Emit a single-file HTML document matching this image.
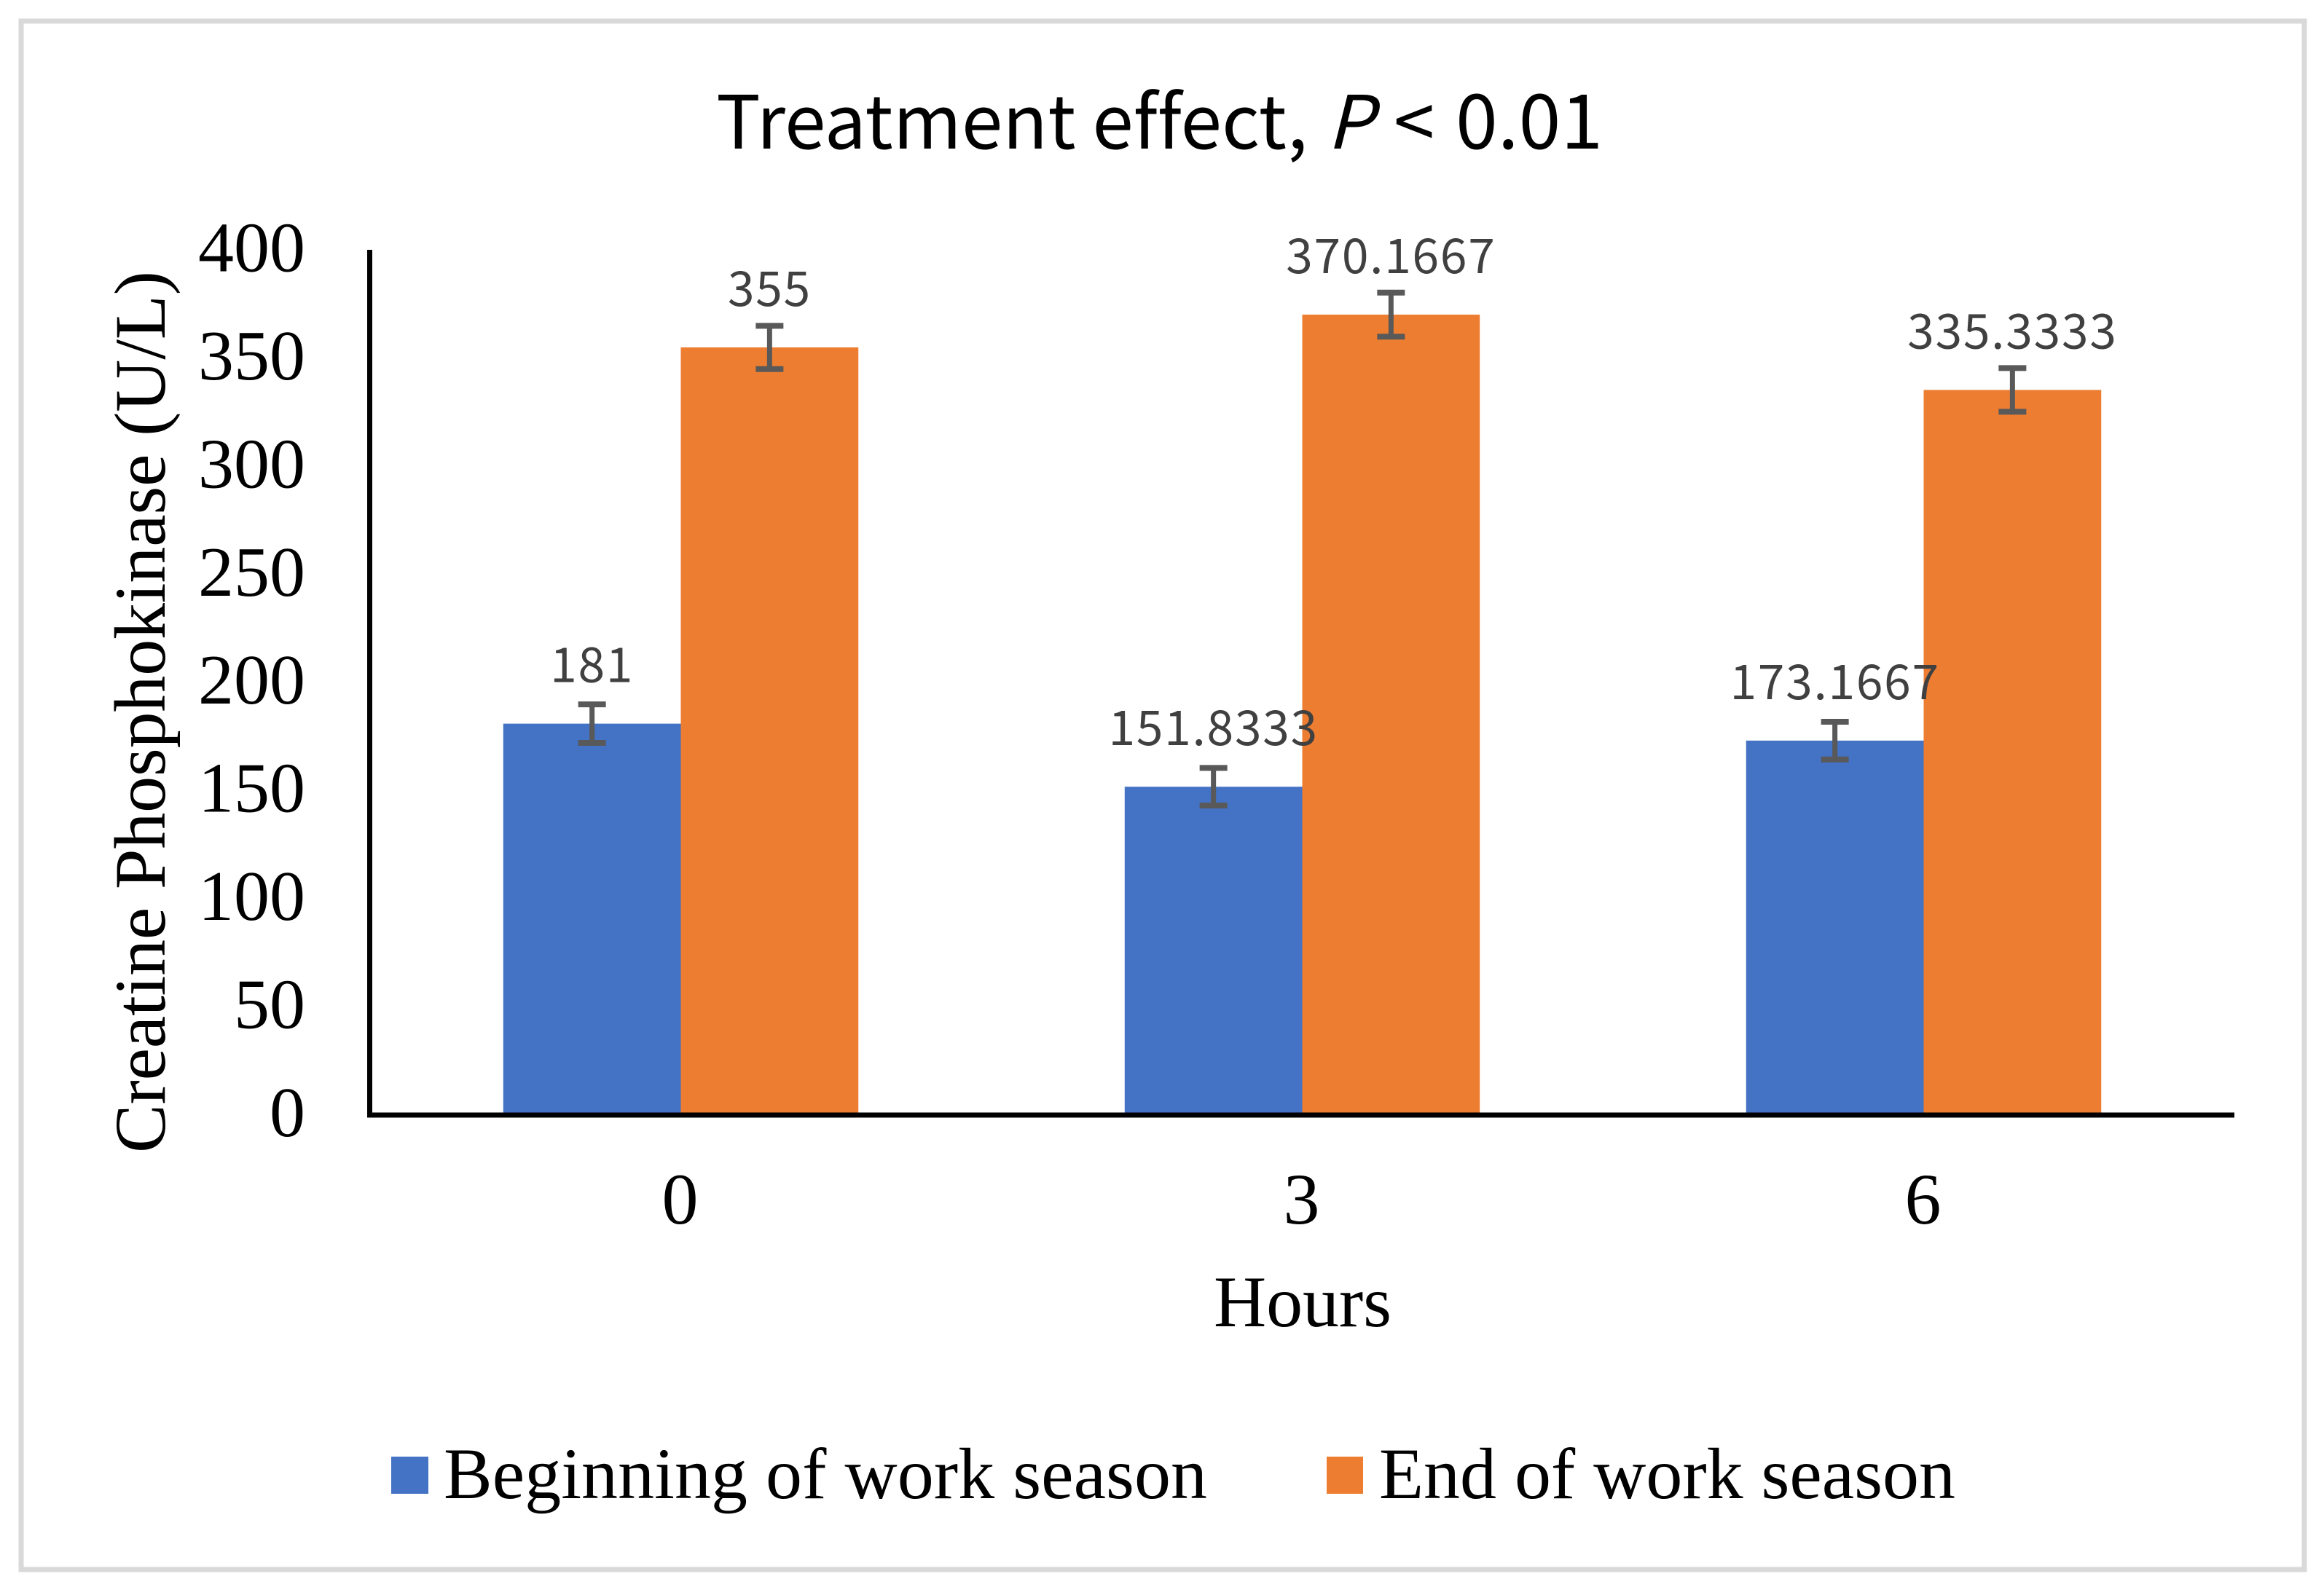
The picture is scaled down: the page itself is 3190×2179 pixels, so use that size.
<!DOCTYPE html>
<html lang="en">
<head>
<meta charset="utf-8">
<title>Treatment effect chart</title>
<style>
html,body{margin:0;padding:0;background:#fff}
svg{display:block}
.serif{font-family:"Liberation Serif",serif;fill:#000}
.cjk{font-family:"Noto Sans CJK JP","Liberation Sans",sans-serif;font-variant-ligatures:none}
</style>
</head>
<body>
<svg id="chart" xmlns="http://www.w3.org/2000/svg" width="3190" height="2179" viewBox="0 0 3190 2179">
  <rect x="0" y="0" width="3190" height="2179" fill="#ffffff"/>
  <rect x="29" y="29" width="3134" height="2126" fill="#ffffff" stroke="#d9d9d9" stroke-width="7"/>
  <text class="cjk" y="204" font-size="101" fill="#000"><tspan x="983" textLength="812" lengthAdjust="spacingAndGlyphs">Treatment effect,</tspan><tspan x="1821" font-style="italic">P</tspan><tspan x="1913">&lt;</tspan><tspan x="1998" font-size="104">0.01</tspan></text>
  <g id="bars"></g>
  <g id="errors"></g>
  <g id="values"></g>
  <g id="yticks"></g>
  <g id="xticks"></g>
  <line x1="507.5" y1="343" x2="507.5" y2="1534" stroke="#000" stroke-width="7"/>
  <line x1="504" y1="1531" x2="3067" y2="1531" stroke="#000" stroke-width="7"/>
  <text class="serif" transform="translate(226,1583) rotate(-90)" x="0" y="0" font-size="100" textLength="1211" lengthAdjust="spacing">Creatine Phosphokinase (U/L)</text>
  <text class="serif" x="1666" y="1821" font-size="100" textLength="244" lengthAdjust="spacing">Hours</text>
  <g>
    <rect x="537" y="2000" width="51" height="51" fill="#4472c4"/>
    <text class="serif" x="609" y="2057" font-size="100" textLength="1048" lengthAdjust="spacing">Beginning of work season</text>
    <rect x="1821" y="2000" width="50" height="51" fill="#ed7d31"/>
    <text class="serif" x="1893" y="2057" font-size="100" textLength="791" lengthAdjust="spacing">End of work season</text>
  </g>
</svg>
<script>
const categories = ['0', '3', '6'];
const beginningValues = [181, 151.8333, 173.1667];
const endValues = [355, 370.1667, 335.3333];
const beginningErrors = [8.9, 8.7, 8.7];
const endErrors = [10, 10.2, 10.1];
const yTicks = [0, 50, 100, 150, 200, 250, 300, 350, 400];

const NS = 'http://www.w3.org/2000/svg';
const plotLeft = 508, plotRight = 3067, plotBottom = 1531, plotTop = 343.4, yMax = 400;
const band = (plotRight - plotLeft) / categories.length;
const barWidth = band / 3.5;

function yScale(v) { return plotBottom - (v / yMax) * (plotBottom - plotTop); }
function xCenter(i) { return plotLeft + band * (i + 0.5); }

function make(tag, parentId, attrs, text) {
  const el = document.createElementNS(NS, tag);
  for (const k in attrs) el.setAttribute(k, attrs[k]);
  if (text !== undefined) el.textContent = text;
  document.getElementById(parentId).appendChild(el);
  return el;
}

yTicks.forEach(function (t) {
  const el = make('text', 'yticks', { x: 419, y: yScale(t) + 29, 'font-size': 98, 'text-anchor': 'end', 'class': 'serif' }, String(t));
  
  
});

categories.forEach(function (c, i) {
  const el = make('text', 'xticks', { x: xCenter(i) - 1, y: 1680, 'font-size': 100, 'text-anchor': 'middle', 'class': 'serif' }, c);
  
  
});

function drawSeries(values, errors, offsetSign, color, seriesName) {
  values.forEach(function (v, i) {
    const cx = xCenter(i);
    const left = offsetSign < 0 ? cx - barWidth : cx;
    const mid = left + barWidth / 2;
    const top = yScale(v);
    const bar = make('rect', 'bars', { x: left, y: top, width: barWidth, height: plotBottom - top, fill: color });
    
    

    const hi = yScale(v + errors[i]);
    const lo = yScale(v - errors[i]);
    const stem = make('line', 'errors', { x1: mid, x2: mid, y1: hi, y2: lo, stroke: '#595959', 'stroke-width': 7 });
    
    
    const capTop = make('line', 'errors', { x1: mid - 19, x2: mid + 19, y1: hi, y2: hi, stroke: '#595959', 'stroke-width': 8 });
    
    
    const capBottom = make('line', 'errors', { x1: mid - 19, x2: mid + 19, y1: lo, y2: lo, stroke: '#595959', 'stroke-width': 8 });
    
    

    const label = make('text', 'values', { x: mid, y: top - 57, 'font-size': 66, 'letter-spacing': 1.7, 'text-anchor': 'middle', fill: '#404040', 'class': 'cjk' }, String(v));
    
    
  });
}

drawSeries(beginningValues, beginningErrors, -1, '#4472c4', 'beginning');
drawSeries(endValues, endErrors, 1, '#ed7d31', 'end');
</script>
</body>
</html>
